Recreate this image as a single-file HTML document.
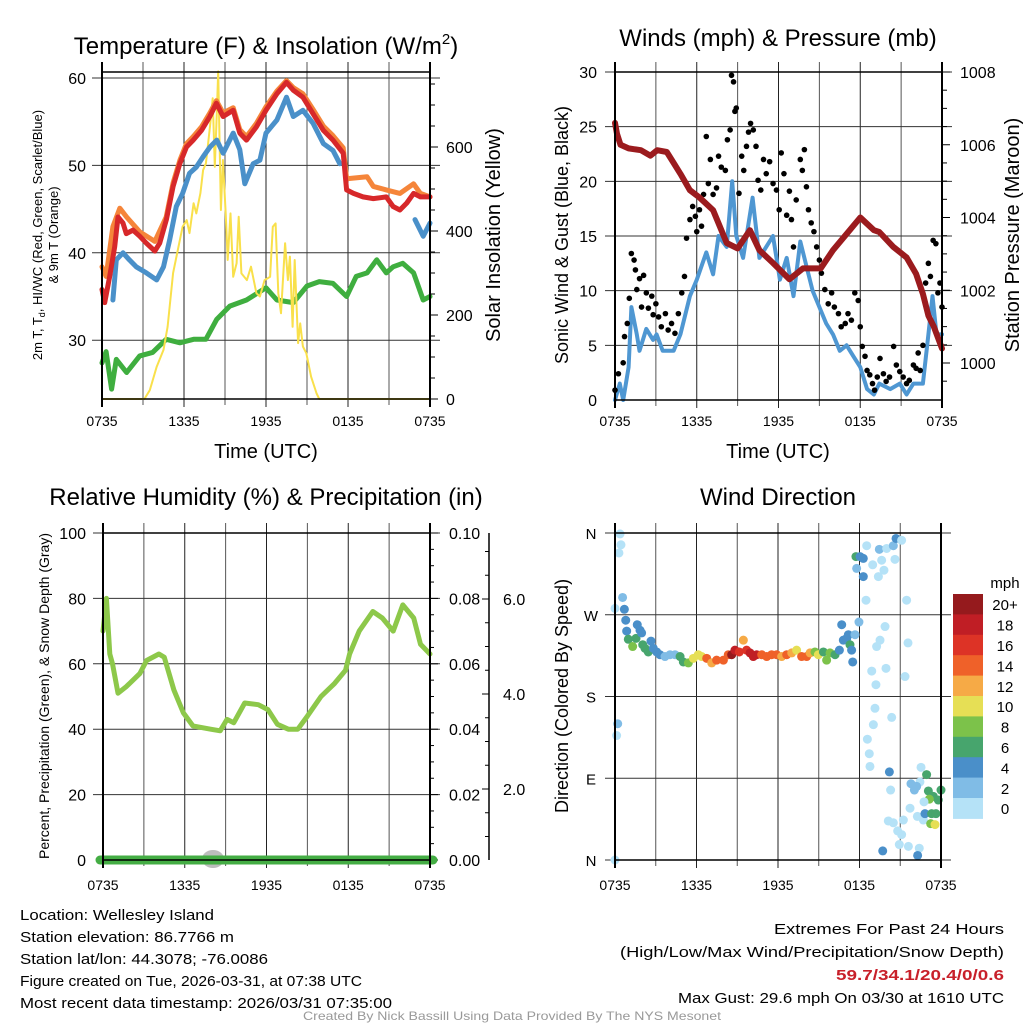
<!DOCTYPE html>
<html><head><meta charset="utf-8">
<style>
html,body{margin:0;padding:0;background:#fff;}
svg{display:block;font-family:"Liberation Sans",Arial,sans-serif;}
</style></head>
<body>
<svg id="fig" width="1024" height="1024" viewBox="0 0 1024 1024" xmlns="http://www.w3.org/2000/svg">
<rect width="1024" height="1024" fill="#fff"/>
<g id="root"></g>
<text x="266" y="54" font-size="24" text-anchor="middle">Temperature (F) &amp; Insolation (W/m<tspan font-size="15" dy="-10">2</tspan><tspan dy="10">)</tspan></text>
<text x="778" y="46" font-size="24" text-anchor="middle">Winds (mph) &amp; Pressure (mb)</text>
<text x="266" y="505" font-size="24" text-anchor="middle">Relative Humidity (%) &amp; Precipitation (in)</text>
<text x="778" y="505" font-size="24" text-anchor="middle">Wind Direction</text>
<text x="266" y="458" font-size="20" text-anchor="middle">Time (UTC)</text>
<text x="778" y="458" font-size="20" text-anchor="middle">Time (UTC)</text>
<text transform="translate(42,235) rotate(-90)" font-size="13" text-anchor="middle">2m T, T<tspan font-size="9" dy="3">d</tspan><tspan dy="-3">, HI/WC (Red, Green, Scarlet/Blue)</tspan></text>
<text transform="translate(58,235) rotate(-90)" font-size="13" text-anchor="middle">&amp; 9m T (Orange)</text>
<text transform="translate(500,235) rotate(-90)" font-size="20" text-anchor="middle">Solar Insolation (Yellow)</text>
<text transform="translate(568,235) rotate(-90)" font-size="18" text-anchor="middle">Sonic Wind &amp; Gust (Blue, Black)</text>
<text transform="translate(1019,235) rotate(-90)" font-size="20" text-anchor="middle">Station Pressure (Maroon)</text>
<text transform="translate(49,696) rotate(-90)" font-size="14" text-anchor="middle">Percent, Precipitation (Green), &amp; Snow Depth (Gray)</text>
<text transform="translate(568,696) rotate(-90)" font-size="18" text-anchor="middle">Direction (Colored By Speed)</text>
<g font-size="15">
<text x="20" y="920" textLength="194" lengthAdjust="spacingAndGlyphs">Location: Wellesley Island</text>
<text x="20" y="942" textLength="214" lengthAdjust="spacingAndGlyphs">Station elevation: 86.7766 m</text>
<text x="20" y="964" textLength="248" lengthAdjust="spacingAndGlyphs">Station lat/lon: 44.3078; -76.0086</text>
<text x="20" y="986" textLength="342" lengthAdjust="spacingAndGlyphs">Figure created on Tue, 2026-03-31, at 07:38 UTC</text>
<text x="20" y="1008" textLength="372" lengthAdjust="spacingAndGlyphs">Most recent data timestamp: 2026/03/31 07:35:00</text>
</g>
<g font-size="15" text-anchor="end">
<text x="1004" y="934" textLength="230" lengthAdjust="spacingAndGlyphs">Extremes For Past 24 Hours</text>
<text x="1004" y="957" textLength="384" lengthAdjust="spacingAndGlyphs">(High/Low/Max Wind/Precipitation/Snow Depth)</text>
<text x="1004" y="980" fill="#c8202a" font-weight="bold" textLength="168" lengthAdjust="spacingAndGlyphs">59.7/34.1/20.4/0/0.6</text>
<text x="1004" y="1003" textLength="326" lengthAdjust="spacingAndGlyphs">Max Gust: 29.6 mph On 03/30 at 1610 UTC</text>
</g>
<text x="512" y="1020" font-size="12" fill="#999" text-anchor="middle" textLength="418" lengthAdjust="spacingAndGlyphs">Created By Nick Bassill Using Data Provided By The NYS Mesonet</text>
</svg>
<script>
// ---------- DATA ----------
const xTickLabels = ["0735","1335","1935","0135","0735"];
const redH = [0,0.2,0.56,0.93,1.17,1.54,1.78,2.27,2.76,3.25,3.86,4.22,4.71,5.2,5.69,6.18,6.67,7.28,7.89,8.37,8.86,9.6,10.08,10.57,11.3,12,12.8,13.5,14,14.7,15.45,16.2,16.9,17.65,17.9,18.4,19.1,19.85,20.8,21.3,21.8,22.3,22.8,23.3,24];
const redT = [35.8,34.3,37.3,40.7,44.1,43.4,42.2,42.6,41.9,41.1,40.2,41.1,43.8,47.6,50.2,52.1,52.9,54,55.6,57.1,55.6,56.3,53.7,52.9,54.4,56.3,58.2,59.5,58.6,57.8,55.9,54,52.9,51.4,47.2,46.8,46.4,46.2,46.4,45.3,44.9,45.7,46.8,46.4,46.4];
const orangeH = [0,0.3,0.8,1.3,1.8,2.76,3.86,4.7,5.2,5.7,6.18,6.67,7.28,7.89,8.37,8.86,9.6,10.08,10.57,11.3,12,12.8,13.5,14,14.7,15.45,16.2,16.9,17.65,17.9,18.1,19.4,19.85,20.8,21.8,22.8,23.3,24];
const orangeT = [38.4,37.3,43,45.1,44.1,42.4,41.3,44.1,48,50.6,52.5,53.3,54.4,56,57.4,56,56.6,54.1,53.3,54.8,56.7,58.5,59.7,58.9,58.2,56.4,54.5,53.4,52,48.5,48.5,48.7,47.6,47.2,46.8,47.9,46.8,46.4];
const blueH = [0.8,1.05,1.54,2,2.5,3.25,4,4.5,4.95,5.44,5.9,6.4,6.9,7.4,7.9,8.4,8.86,9.6,10.08,10.45,11.06,11.55,12,12.8,13.5,14,14.7,15.45,16.2,16.9,17.4,17.6,22.9,23.5,24];
const blueT = [34.6,39.2,40,39.2,38.4,37.7,36.9,38.4,41.5,45.3,46.8,49.1,49.8,51,52.1,52.9,51.4,53.7,51.8,47.9,50.2,50.6,53.7,55.2,57.8,55.6,56.3,54.8,52.5,51.7,50.2,null,43.8,41.9,43.4];
const greenH = [0,0.3,0.7,1.05,1.8,2.76,3.7,4.7,5.7,6.7,7.6,8.4,9.35,10.57,12,12.8,14,15,15.9,16.9,17.9,18.6,19.4,20.1,20.8,21.3,22,22.8,23.5,24];
const greenT = [27.4,28.7,24.4,27.8,26.3,28.2,28.6,30.1,29.7,30.1,30.1,32.4,33.9,34.6,36,34.6,34.3,36.2,36.7,36.5,35,37.3,37.7,39.2,37.7,38.4,38.8,37.7,34.6,35];
const solarH = [0,3.1,3.5,4,4.5,4.8,5.2,5.7,5.9,6.2,6.4,6.7,6.9,7.2,7.4,7.6,7.9,8.1,8.25,8.4,8.5,8.7,8.85,9.05,9.2,9.4,9.6,9.85,10,10.2,10.6,10.9,11.3,11.55,11.9,12.3,12.5,12.7,12.9,13.1,13.4,13.6,13.75,13.95,14.1,14.35,14.5,14.7,14.95,15.3,15.7,15.9,24];
const solarW = [0,0,21,77,117,172,300,379,410,426,395,466,442,490,545,561,649,716,553,680,780,450,569,442,331,442,291,323,434,299,283,315,252,244,283,291,410,418,252,204,371,283,339,172,331,133,180,125,109,53,13,0,0];
const tempTicks = [30,40,50,60];
const solarTicks = [0,200,400,600];

const windH = [0,0.35,0.6,1,1.2,1.6,1.8,2.3,2.8,3.05,3.5,4.3,4.8,5.5,6,6.7,7.2,7.6,8.2,8.6,8.9,9.4,10.1,10.6,11.6,12.1,12.6,13.1,13.6,14.1,14.5,15,15.5,16,16.5,17,17.5,18,18.5,19,19.4,20.2,20.9,21.4,21.9,22.6,23,23.3,23.6,24];
const windS = [0,1.5,0,3,8.5,6,4.5,6.5,5.5,6,4.5,4.5,6,9.5,11,13.5,11.5,15,14,20,15,13,18.5,13,15,11,13,9.5,14.5,12,10,8.5,7,6,4.5,5,4,3,1,0.5,1.5,1,1.5,0.5,1.5,1.5,6,9.5,6,6];
const gustH = [0,0.25,0.6,0.7,0.9,1.05,1.2,1.4,1.5,1.6,1.8,1.95,2.1,2.3,2.45,2.7,2.8,3,3.2,3.4,3.7,3.9,4.15,4.4,4.65,4.9,5.1,5.25,5.5,5.7,5.9,6,6.2,6.35,6.5,6.7,6.85,7,7.2,7.45,7.6,7.8,8.1,8.25,8.45,8.55,8.7,8.8,8.9,9.1,9.3,9.45,9.65,9.8,9.95,10.15,10.35,10.5,10.7,10.9,11.1,11.35,11.6,11.85,12.05,12.2,12.4,12.6,12.8,12.95,13.1,13.3,13.6,13.75,13.9,14.05,14.2,14.4,14.6,14.8,15,15.15,15.4,15.65,15.9,16.1,16.4,16.6,16.9,17.1,17.35,17.6,17.85,18,18.15,18.35,18.5,18.7,18.9,19.05,19.25,19.45,19.7,19.9,20.15,20.45,20.65,20.9,21.15,21.4,21.6,21.9,22.1,22.25,22.4,22.6,22.8,23,23.15,23.35,23.55,23.7,23.85,24];
const gustV = [0.9,2.4,3.4,5.8,7,9.3,13.4,12.8,11.9,10.1,11.1,8.5,11.4,9.8,8.4,9.5,7.8,8.8,7.6,6.7,7.9,6.4,7,6.1,7.9,9.8,11.3,14.8,16.5,17.7,16.8,15.4,17.4,15.9,18.8,24.1,19.8,22,18.8,19.4,22.3,21.3,21,23.8,24.7,29.7,29.1,26.4,26.7,18.9,22.3,21,23.2,24.5,25.3,24.7,23.2,20.1,19.2,22,20.7,21.8,19.8,19.2,17.4,22.6,20.7,16.9,19.1,16.5,14,18.3,22,21,22.9,19.5,17.4,16.2,15.4,14,12.8,11.6,10.1,8.8,9.8,8.5,7.9,6.7,7,7.9,7.3,9.8,9.1,6.7,4.9,4,2.7,2.3,1.5,0.9,2.1,3.8,2.4,1.7,2.1,4.9,3.2,2.6,2.1,1.5,1.8,3.2,2.9,4.3,2.7,5,10.7,12.5,11.3,14.6,14.3,9.8,10.7,8.5];
const presH = [0,0.15,0.4,1,1.9,2.6,3.1,3.8,4.3,4.8,5.5,6.2,7.2,8.2,9,9.9,10.6,11.6,12.8,13.8,15.1,16,17,18,19,19.4,20.4,21.4,22.1,22.6,23,23.4,24];
const presMb = [1006.6,1006.3,1006.0,1005.9,1005.85,1005.7,1005.85,1005.8,1005.5,1005.2,1004.75,1004.55,1004.2,1003.3,1003.15,1003.65,1003.1,1002.75,1002.3,1002.6,1002.6,1003.1,1003.55,1004.0,1003.65,1003.6,1003.2,1002.9,1002.45,1001.9,1001.3,1001.0,1000.4];
const windTicks = [0,5,10,15,20,25,30];
const presTicks = [1000,1002,1004,1006,1008];

const rhH = [0,0.25,0.5,0.7,1.1,1.7,2.7,3.2,4.1,4.5,5.2,5.9,6.6,7.9,8.6,9.1,9.6,10.4,11.4,12.1,12.8,13.6,14.3,15,16,17,17.8,18.1,18.8,19.8,20.5,21.3,22,22.8,23.3,24];
const rhV = [70,80,63,60,51,53,57,61,63,62,52,45,41,40,39.5,43,42,48,47.5,46,41.5,40,40,44,50,54,58,63,70,76,74,70,78,74,66,63];
const rhTicks = [0,20,40,60,80,100];
const precipTicks = [0.00,0.02,0.04,0.06,0.08,0.10];
const snowTicks = [2.0,4.0,6.0];
const snowH = [8.0];
const snowV = [0.1];

const dirH = [0.37,0.44,0.29,0,0.56,0.69,0.79,0.86,0.98,1.3,1.55,1.64,1.84,1.96,2.04,2.21,2.45,2.65,2.82,3.07,3.31,3.68,4.05,4.42,4.79,5.03,5.4,5.77,6.13,6.38,6.75,7.12,7.48,7.98,8.34,8.59,8.83,9.15,9.45,9.69,9.94,10.18,10.43,10.8,11.17,11.53,11.9,12.27,12.64,13.01,13.37,13.74,14.11,14.36,14.72,14.97,15.34,15.58,15.83,16.2,16.52,16.69,16.81,17.06,17.18,17.3,17.42,17.5,17.67,17.96,18.48,17.74,18.04,18.28,17.79,18.28,18.53,18.97,19.39,19.46,19.63,19.8,20,20.49,20.69,21.1,20.61,21.47,19.88,19.51,19.26,19.95,21.57,21.35,18.9,19.21,19.14,20.37,19.02,18.58,18.72,18.77,20.2,20.29,22.53,22.94,21.79,22.04,22.45,22.21,21.72,22.26,22.7,22.82,23.07,23.44,23.8,24,23.14,23.31,23.63,23.24,23.56,20.12,20.49,20.81,21.1,21.23,20.93,21.6,19.71,22.4,22.28,22.75,0,0.2,0.12];
const dirDeg = [359,347,338,277,289,276,264,252,243,235,244,259,253,250,237,233,229,241,233,229,226,224,226,226,224,218,217,222,226,224,222,217,220,220,226,226,231,229,242,231,228,224,226,226,224,226,226,224,226,228,231,224,224,228,229,226,229,220,228,226,231,259,242,244,248,237,231,218,248,262,286,334,334,332,321,312,346,325,312,342,330,319,343,346,354,352,331,286,257,242,235,211,239,202,208,193,167,157,149,133,117,103,97,77,102,94,84,77,86,81,57,48,44,51,76,70,66,77,67,51,51,40,39,43,41,32,28,44,17,15,10,13,5,64,0,150,137];
const dirSpd = [0,0,0,0,3,4,4,4,6,8,6,4,4,4,6,6,6,4,4,4,4,3,3,3,6,6,8,10,10,10,14,12,14,14,15,20,18,16,12,16,18,18,18,14,14,14,14,12,14,12,10,14,14,12,8,10,6,8,8,6,4,4,4,4,4,6,4,4,2,3,0,6,4,4,3,4,0,0,0,3,0,0,0,3,4,0,0,0,0,0,0,0,0,0,0,0,0,0,0,0,0,0,4,0,0,6,3,3,0,3,0,0,0,4,6,6,6,6,8,6,6,8,10,0,0,0,0,0,0,0,4,0,4,0,0,3,0];
const dirTicks = [0,90,180,270,360];
const dirTickLabels = ["N","E","S","W","N"];
const speedBins = [0,2,4,6,8,10,12,14,16,18,20];
const speedLabels = ["0","2","4","6","8","10","12","14","16","18","20+"];
const speedColors = ["#b5e2f7","#80bce6","#4a8fc9","#47a56d","#7cc24a","#e6df55","#f6aa46","#ef6129","#dd3326","#c01e25","#951a1d"];

// ---------- HELPERS ----------
const NS = "http://www.w3.org/2000/svg";
const root = document.getElementById("root");
function el(tag, attrs, parent){
  const e = document.createElementNS(NS, tag);
  for (const k in attrs) e.setAttribute(k, attrs[k]);
  (parent||root).appendChild(e);
  return e;
}
function panel(x0,x1,y0,y1){
  return {x0,x1,y0,y1,
    x: h => x0 + (x1-x0)*h/24};
}
function linY(v0,v1,y0,y1){ return v => y0 + (v-v0)/(v1-v0)*(y1-y0); }
function pathFrom(H,V,px,py){
  let d="", pen=false;
  for(let i=0;i<H.length;i++){
    if(V[i]===null){pen=false;continue;}
    d += (pen?"L":"M")+px(H[i]).toFixed(1)+","+py(V[i]).toFixed(1);
    pen=true;
  }
  return d;
}
function grid(p, g, yList, leftExt){
  for(let h=3;h<24;h+=3){
    const l = el("line",{x1:p.x(h),x2:p.x(h),y1:p.y0-10,y2:p.y1+(h%6===0?8:6),stroke:(h%6===0?"#222":"#555"),"stroke-width":1},g);
    
    
  }
  yList.forEach(y=>{
    const l = el("line",{x1:p.x0-leftExt,x2:p.x1+10,y1:y,y2:y,stroke:"#333","stroke-width":1},g);
    
    
  });
}
function xLabels(p,g,y){
  xTickLabels.forEach((t,i)=>{
    const tx = el("text",{x:p.x(i*6),y:y,"font-size":14,"text-anchor":"middle"},g);
    tx.textContent=t;
    
    
  });
}
function frame(p,g){
  el("line",{x1:p.x0,x2:p.x0,y1:p.y0-10,y2:p.y1+8,stroke:"#000","stroke-width":2},g);
  el("line",{x1:p.x1,x2:p.x1,y1:p.y0-10,y2:p.y1+8,stroke:"#000","stroke-width":2},g);
  el("line",{x1:p.x0,x2:p.x1,y1:p.y0,y2:p.y0,stroke:"#000","stroke-width":1.5},g);
  el("line",{x1:p.x0,x2:p.x1,y1:p.y1,y2:p.y1,stroke:"#000","stroke-width":1.5},g);
}

// ---------- PANEL 1: TEMPERATURE ----------
(function(){
  const p = panel(102,430,72,399);
  const ty = linY(60,50,78,165.4);
  const sy = linY(0,600,399,147);
  const g = el("g",{});  
  grid(p,g,tempTicks.map(ty),10);
  tempTicks.forEach(v=>{const t=el("text",{x:86,y:ty(v)+6,"font-size":16,"text-anchor":"end"},g);t.textContent=v;});
  for(let v=0;v<=750;v+=50){const y=sy(v); if(y<p.y0) break; el("line",{x1:p.x1,x2:p.x1+(v%200===0?8:5),y1:y,y2:y,stroke:"#000"},g);}
  solarTicks.forEach(v=>{const t=el("text",{x:446,y:sy(v)+6,"font-size":16},g);t.textContent=v;});
  const gl=el("path",{d:pathFrom(greenH,greenT,p.x,ty),fill:"none",stroke:"#3fae3f","stroke-width":5,"stroke-linejoin":"round","stroke-linecap":"round"},g);
   
  const sl=el("path",{d:pathFrom(solarH,solarW,p.x,sy),fill:"none",stroke:"#f9e04b","stroke-width":2,"stroke-linejoin":"round"},g);
   
  const ol=el("path",{d:pathFrom(orangeH,orangeT,p.x,ty),fill:"none",stroke:"#f5853a","stroke-width":5,"stroke-linejoin":"round","stroke-linecap":"round"},g);
   
  const bl=el("path",{d:pathFrom(blueH,blueT,p.x,ty),fill:"none",stroke:"#4a90c9","stroke-width":5,"stroke-linejoin":"round","stroke-linecap":"round"},g);
   
  const rl=el("path",{d:pathFrom(redH,redT,p.x,ty),fill:"none",stroke:"#d7282a","stroke-width":5,"stroke-linejoin":"round","stroke-linecap":"round"},g);
   
  frame(p,g);
  xLabels(p,g,426);
})();

// ---------- PANEL 2: WINDS ----------
(function(){
  const p = panel(615,942,72,400);
  const wy = linY(0,30,400,72);
  const py = linY(1000,1008,363,72);
  const g = el("g",{});  
  grid(p,g,windTicks.filter(v=>v>0).map(wy),10);
  windTicks.forEach(v=>{const t=el("text",{x:597,y:wy(v)+6,"font-size":16,"text-anchor":"end"},g);t.textContent=v;});
  for(let v=999.5;v<=1008;v+=0.5){const y=py(v); el("line",{x1:p.x1,x2:p.x1+(v%2===0?8:5),y1:y,y2:y,stroke:"#000"},g);}
  presTicks.forEach(v=>{const t=el("text",{x:960,y:py(v)+6,"font-size":16},g);t.textContent=v;});
  const wl=el("path",{d:pathFrom(windH,windS,p.x,wy),fill:"none",stroke:"#4f97d2","stroke-width":4,"stroke-linejoin":"round","stroke-linecap":"round"},g);
   
  for(let i=0;i<gustH.length;i++){
    const c=el("circle",{cx:p.x(gustH[i]),cy:wy(gustV[i]),r:2.8,fill:"#000"},g);
    
    
  }
  const pl=el("path",{d:pathFrom(presH,presMb,p.x,py),fill:"none",stroke:"#9b1b1e","stroke-width":6,"stroke-linejoin":"round","stroke-linecap":"round"},g);
   
  frame(p,g);
  xLabels(p,g,426);
})();

// ---------- PANEL 3: RH ----------
(function(){
  const p = panel(103,430,533,860);
  const ry = linY(0,100,860,533);
  const qy = linY(0,0.1,860,533);
  const g = el("g",{});  
  grid(p,g,rhTicks.filter(v=>v>0).map(ry),10);
  rhTicks.forEach(v=>{const t=el("text",{x:86,y:ry(v)+6,"font-size":16,"text-anchor":"end"},g);t.textContent=v;});
  for(let v=0;v<=0.1001;v+=0.005){const y=qy(v); el("line",{x1:p.x1,x2:p.x1+(Math.round(v*1000)%20===0?8:4),y1:y,y2:y,stroke:"#000"},g);}
  precipTicks.forEach(v=>{const t=el("text",{x:449,y:qy(v)+6,"font-size":16},g);t.textContent=v.toFixed(2);});
  // snow depth axis
  const sy = linY(0,2,884,789);
  const ax=el("line",{x1:489,x2:489,y1:533,y2:860,stroke:"#000","stroke-width":1.5},g);
   
  for(let v=0.5;v<=7;v+=0.5){const y=sy(v); if(y<533) break; if(y>860) continue; el("line",{x1:489,x2:489-(v%2===0?7:4),y1:y,y2:y,stroke:"#000"},g);}
  snowTicks.forEach(v=>{const t=el("text",{x:503,y:sy(v)+6,"font-size":16},g);t.textContent=v.toFixed(1);});
  const rl=el("path",{d:pathFrom(rhH,rhV,p.x,ry),fill:"none",stroke:"#8dc84a","stroke-width":5,"stroke-linejoin":"round","stroke-linecap":"round"},g);
   
  snowH.forEach((h,i)=>{
    const c=el("ellipse",{cx:p.x(h)+1,cy:ry(0)-1+0*snowV[i],rx:11,ry:9,fill:"#bdbdbd"},g);
    
    
  });
  const pr=el("line",{x1:p.x0-3,x2:p.x1+3,y1:qy(0),y2:qy(0),stroke:"#44ad44","stroke-width":9,"stroke-linecap":"round"},g);
   
  frame(p,g);
  xLabels(p,g,890);
})();

// ---------- PANEL 4: DIRECTION ----------
(function(){
  const p = panel(615,941,533,860);
  const dy = linY(0,360,860,533);
  const g = el("g",{});  
  grid(p,g,dirTicks.map(dy),10);
  dirTicks.forEach((v,i)=>{const t=el("text",{x:591,y:dy(v)+6,"font-size":15,"text-anchor":"middle"},g);t.textContent=dirTickLabels[i];});
  function col(s){let k=0; for(let i=0;i<speedBins.length;i++) if(s>=speedBins[i]) k=i; return speedColors[k];}
  for(let i=0;i<dirH.length;i++){
    const c=el("circle",{cx:p.x(dirH[i]),cy:dy(dirDeg[i]),r:4.5,fill:col(dirSpd[i])},g);
    
    
  }
  frame(p,g);
  xLabels(p,g,890);
  // colorbar
  const cb = el("g",{});  
  const t0=el("text",{x:1005,y:588,"font-size":15,"text-anchor":"middle"},cb); t0.textContent="mph";
   
  const n=speedColors.length, top=594, bh=20.4;
  for(let i=0;i<n;i++){
    const k=n-1-i;
    const r=el("rect",{x:953,y:top+i*bh,width:30,height:bh+0.5,fill:speedColors[k]},cb);
    
    
    const t=el("text",{x:1005,y:top+i*bh+bh/2+6,"font-size":15,"text-anchor":"middle"},cb);
    t.textContent=speedLabels[k];
    
    
  }
})();
</script>
</body></html>
